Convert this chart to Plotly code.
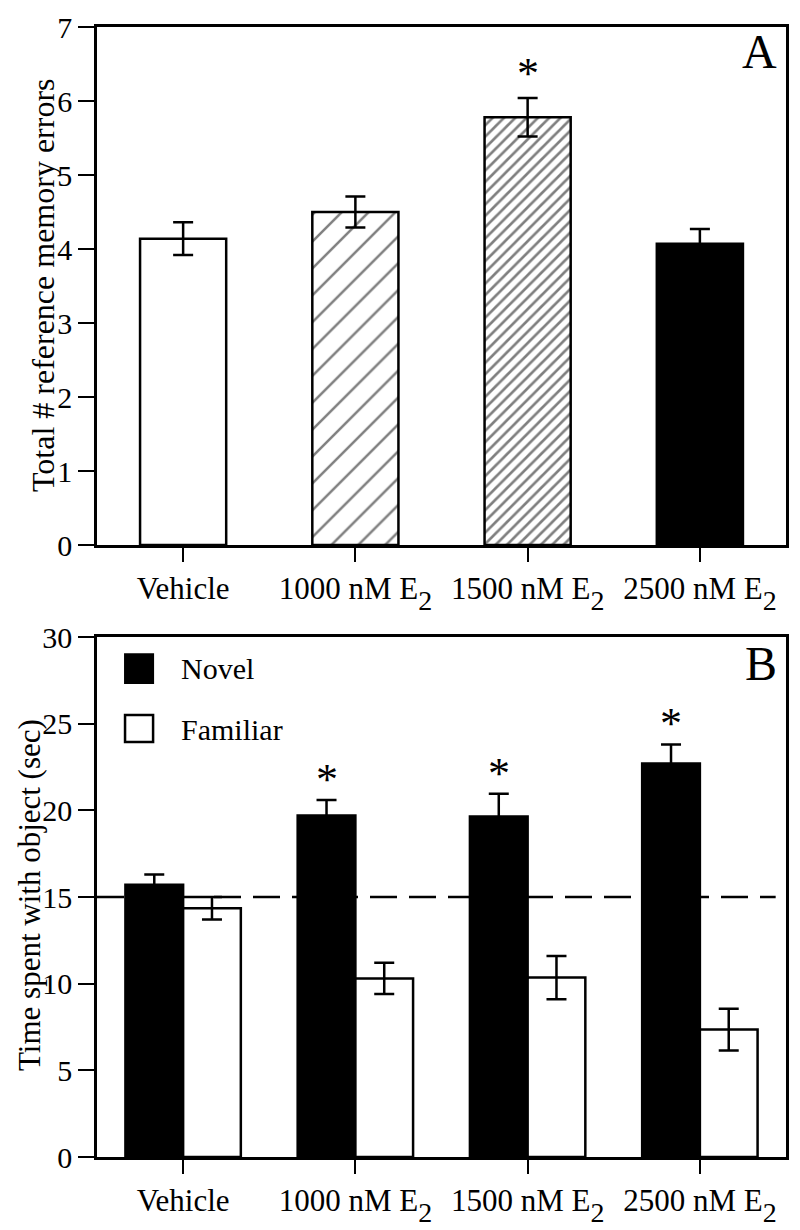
import plotly.graph_objects as go

# ---------------- data ----------------
groups = ["Vehicle", "1000 nM E<sub>2</sub>", "1500 nM E<sub>2</sub>", "2500 nM E<sub>2</sub>"]
x_pos = [0, 1, 2, 3]

# Panel A: total # reference memory errors
errors_mean = [4.14, 4.50, 5.78, 4.07]
errors_sem = [0.22, 0.21, 0.26, 0.20]
sig_A = [False, False, True, False]

# Panel B: time spent with object (sec)
novel_mean = [15.7, 19.7, 19.65, 22.7]
novel_sem = [0.6, 0.9, 1.3, 1.1]
familiar_mean = [14.35, 10.3, 10.35, 7.35]
familiar_sem = [0.65, 0.9, 1.25, 1.2]
sig_B = [False, True, True, True]
chance_level = 15

FONT = "Liberation Serif, Times New Roman, serif"
W, H = 800, 1230
OX, OY = 8, 8  # page body margin offset of the rendered figure


def px(x):
    return (x - OX) / W


def py(y):
    return 1 - (y - OY) / H


# fill styles for panel A bars
a_styles = [
    dict(color="white"),
    dict(color="white", pattern=dict(shape="/", size=19, solidity=0.13,
                                     fgcolor="black", bgcolor="white")),
    dict(color="white", pattern=dict(shape="/", size=8, solidity=0.33,
                                     fgcolor="black", bgcolor="white")),
    dict(color="black"),
]

fig = go.Figure()

# Panel A bars
for xi, m, s, st in zip(x_pos, errors_mean, errors_sem, a_styles):
    fig.add_trace(go.Bar(
        x=[xi], y=[m], width=0.5, offsetgroup="A",
        marker=dict(line=dict(color="black", width=2.5), **st),
        error_y=dict(type="data", array=[s], visible=True,
                     color="black", thickness=2.5, width=10),
        xaxis="x", yaxis="y", showlegend=False,
    ))

# Panel B bars
fig.add_trace(go.Bar(
    x=x_pos, y=novel_mean, name="Novel",
    marker=dict(color="black", line=dict(color="black", width=2.5)),
    error_y=dict(type="data", array=novel_sem, visible=True,
                 color="black", thickness=2.5, width=10),
    xaxis="x2", yaxis="y2", showlegend=False, offsetgroup="novel",
))
fig.add_trace(go.Bar(
    x=x_pos, y=familiar_mean, name="Familiar",
    marker=dict(color="white", line=dict(color="black", width=2.5)),
    error_y=dict(type="data", array=familiar_sem, visible=True,
                 color="black", thickness=2.5, width=10),
    xaxis="x2", yaxis="y2", showlegend=False, offsetgroup="familiar",
))

axis_common = dict(
    showline=True, linecolor="black", linewidth=2.5, mirror=True,
    showgrid=False, zeroline=False, automargin=False,
    ticks="outside", tickcolor="black",
)
yfont = dict(family=FONT, size=30, color="black")
xfont = dict(family=FONT, size=31, color="black")

tick_text = [g.replace("<sub>2</sub>",
                       "<sub><sub><span style='font-size:28px'>2</span></sub></sub>")
             for g in groups]

xdom = [px(97), px(786)]
fig.update_layout(
    width=W, height=H,
    margin=dict(l=0, r=0, t=0, b=0),
    paper_bgcolor="white", plot_bgcolor="white",
    barmode="group", bargap=0.33, bargroupgap=0,
    font=dict(family=FONT, color="black"),
    xaxis=dict(domain=xdom, anchor="y", range=[-0.5, 3.5],
               tickvals=x_pos, ticktext=tick_text, ticklen=14, tickwidth=1.5,
               tickfont=xfont, **axis_common),
    yaxis=dict(domain=[py(545), py(27)], anchor="x", range=[0, 7],
               tickvals=[0, 1, 2, 3, 4, 5, 6, 7], ticklen=16, tickwidth=2,
               tickfont=yfont, **axis_common),
    xaxis2=dict(domain=xdom, anchor="y2", range=[-0.5, 3.5],
                tickvals=x_pos, ticktext=tick_text, ticklen=14, tickwidth=1.5,
                tickfont=xfont, **axis_common),
    yaxis2=dict(domain=[py(1157), py(637)], anchor="x2", range=[0, 30],
                tickvals=[0, 5, 10, 15, 20, 25, 30], ticklen=16, tickwidth=2,
                tickfont=yfont, **axis_common),
)

annotations = []
# axis titles
annotations.append(dict(text="Total # reference memory errors", textangle=-90,
                        xref="paper", yref="paper", x=px(43), y=py(285),
                        xanchor="center", yanchor="middle", showarrow=False,
                        font=dict(family=FONT, size=32, color="black")))
annotations.append(dict(text="Time spent with object (sec)", textangle=-90,
                        xref="paper", yref="paper", x=px(29), y=py(895),
                        xanchor="center", yanchor="middle", showarrow=False,
                        font=dict(family=FONT, size=31, color="black")))
# panel letters
annotations.append(dict(text="A", xref="x domain", yref="y domain", x=0.99, y=1.008,
                        xanchor="right", yanchor="top", showarrow=False,
                        font=dict(family=FONT, size=48, color="black")))
annotations.append(dict(text="B", xref="x2 domain", yref="y2 domain", x=0.99, y=1.004,
                        xanchor="right", yanchor="top", showarrow=False,
                        font=dict(family=FONT, size=48, color="black")))
# significance asterisks
for xi, m, s, sig in zip(x_pos, errors_mean, errors_sem, sig_A):
    if sig:
        annotations.append(dict(text="*", x=xi, y=m + s, xref="x", yref="y",
                                xanchor="center", yanchor="bottom", yshift=-2,
                                showarrow=False,
                                font=dict(family=FONT, size=44, color="black")))
for xi, m, s, sig in zip(x_pos, novel_mean, novel_sem, sig_B):
    if sig:
        annotations.append(dict(text="*", x=xi - 0.1675, y=m + s, xref="x2", yref="y2",
                                xanchor="center", yanchor="bottom", yshift=-6,
                                showarrow=False,
                                font=dict(family=FONT, size=44, color="black")))
# legend text
annotations.append(dict(text="Novel", xref="x2 domain", yref="y2 domain", x=0.119, y=0.940,
                        xanchor="left", yanchor="middle", showarrow=False,
                        font=dict(family=FONT, size=30, color="black")))
annotations.append(dict(text="Familiar", xref="x2 domain", yref="y2 domain", x=0.119, y=0.823,
                        xanchor="left", yanchor="middle", showarrow=False,
                        font=dict(family=FONT, size=30, color="black")))
fig.update_layout(annotations=annotations)

shapes = [
    # chance line
    dict(type="line", xref="x2 domain", yref="y2", x0=0, x1=0.985,
         y0=chance_level, y1=chance_level, layer="above",
         line=dict(color="black", width=2.5, dash="27px,12px")),
    # legend swatches
    dict(type="rect", xref="x2 domain", yref="y2 domain", x0=0.0407, x1=0.0814,
         y0=0.9115, y1=0.967, fillcolor="black", line=dict(color="black", width=2)),
    dict(type="rect", xref="x2 domain", yref="y2 domain", x0=0.0407, x1=0.0814,
         y0=0.798, y1=0.85, fillcolor="white", line=dict(color="black", width=2.5)),
]
fig.update_layout(shapes=shapes)

fig.write_html("out.html")
